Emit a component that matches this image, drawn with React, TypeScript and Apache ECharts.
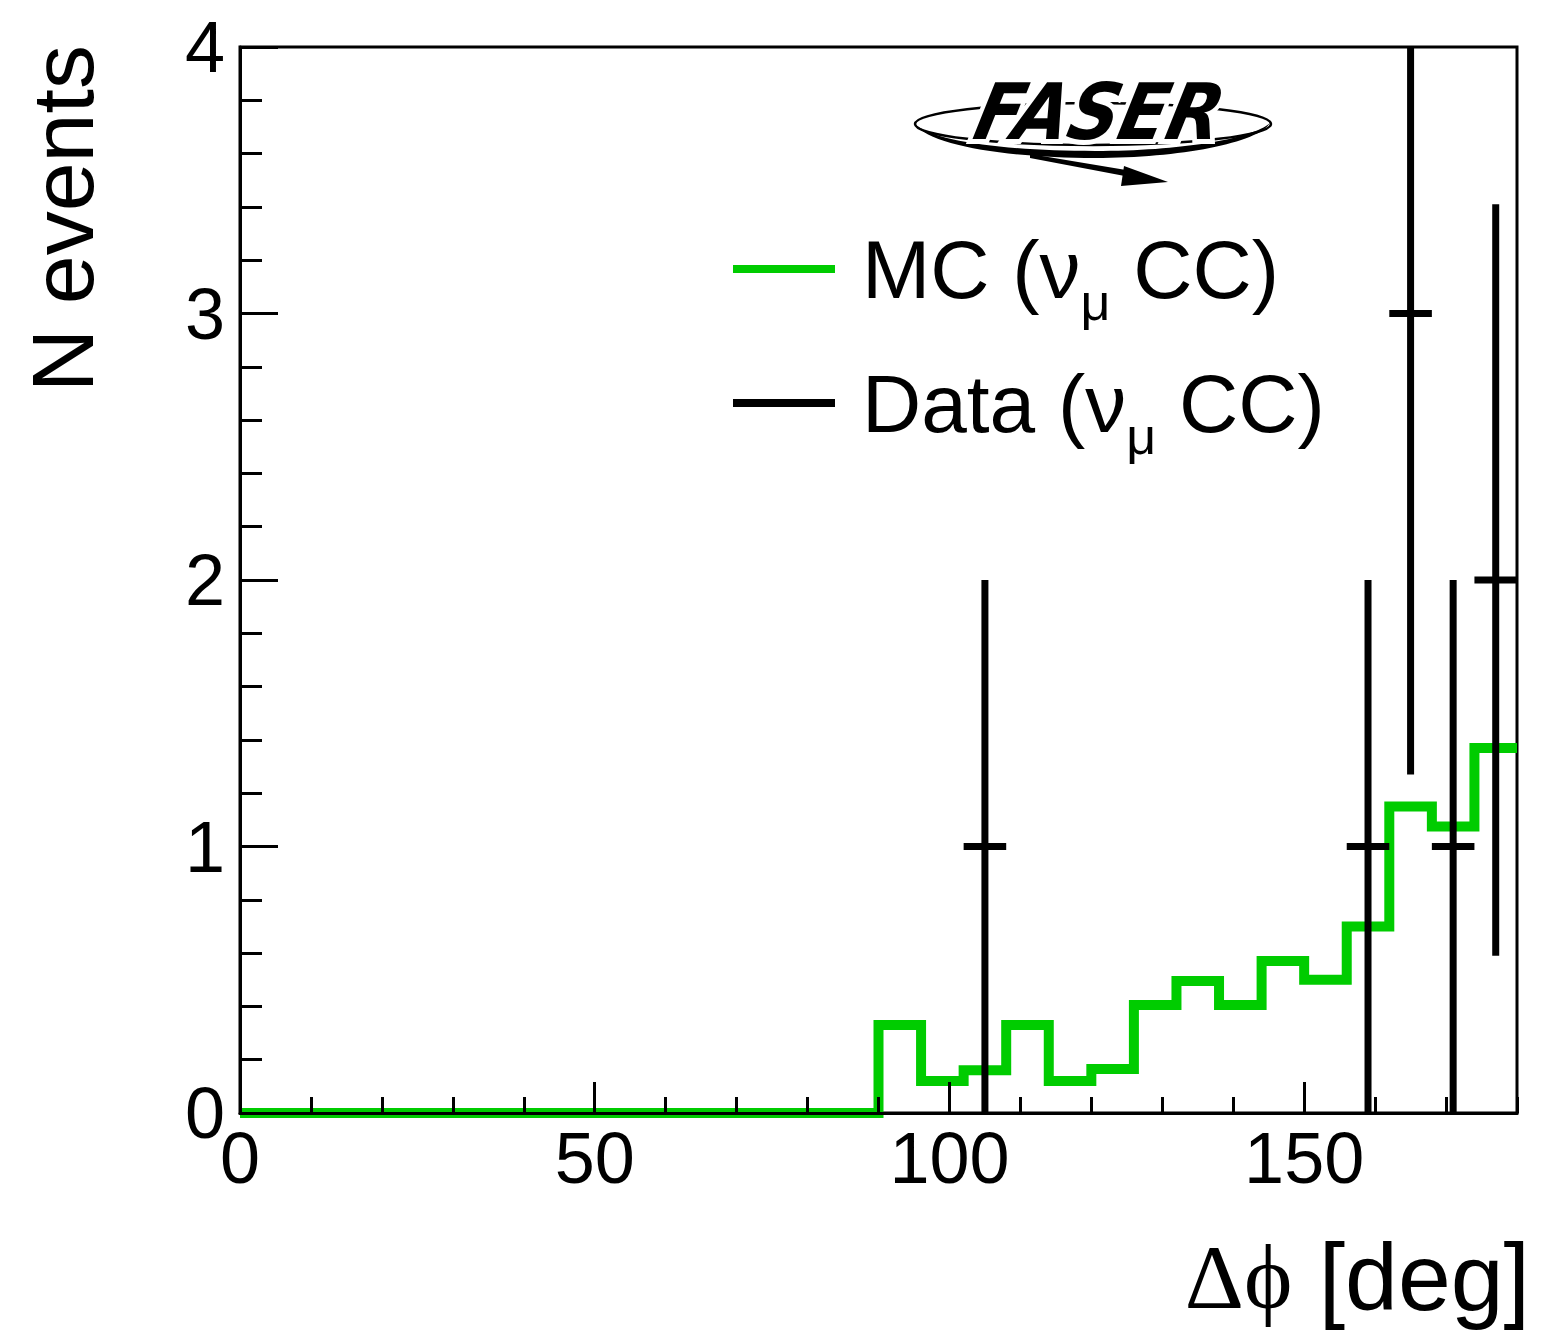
import React, { useEffect, useRef } from "react";
import * as echarts from "echarts";

// ---- data ----
const binEdges = [
  0, 6, 12, 18, 24, 30, 36, 42, 48, 54, 60, 66, 72, 78, 84, 90, 96, 102, 108, 114,
  120, 126, 132, 138, 144, 150, 156, 162, 168, 174, 180,
];
const mcValues = [
  0, 0, 0, 0, 0, 0, 0, 0, 0, 0, 0, 0, 0, 0, 0,
  0.33, 0.12, 0.16, 0.33, 0.12, 0.165, 0.405, 0.495, 0.405, 0.57, 0.5, 0.7, 1.15, 1.075, 1.37,
];
const dataCenters = [105, 159, 165, 171, 177];
const dataBinLow = [102, 156, 162, 168, 174];
const dataBinHigh = [108, 162, 168, 174, 180];
const dataValues = [1, 1, 3, 1, 2];
const dataErrors = [1, 1, 1.73, 1, 1.41];

const X_MIN = 0;
const X_MAX = 180;
const Y_MIN = 0;
const Y_MAX = 4;

const SANS = "Liberation Sans, Arial, Helvetica, sans-serif";
const SERIF = "Liberation Serif, DejaVu Serif, serif";
const GREEN = "#00cc00";

// FASER logo swoosh (decoration)
const SWOOSH =
  "M 915 124 C 930 146 1010 158 1095 158 C 1180 158 1258 143 1270 123 C 1252 139 1180 151 1095 151 C 1010 151 934 142 915 124 Z";
let registered = false;
function registerLogo() {
  if (registered) return;
  registered = true;
  echarts.graphic.registerShape("faserSwoosh", echarts.graphic.extendPath(SWOOSH, {}));
}

export default function App() {
  const ref = useRef<HTMLDivElement>(null);

  useEffect(() => {
    if (!ref.current) return;
    registerLogo();
    const chart = echarts.init(ref.current, null, { renderer: "svg" });

    const mcData = binEdges.map((e, i) => [e, mcValues[Math.min(i, mcValues.length - 1)]]);
    const dataPts = dataCenters.map((c, i) => [c, dataValues[i], dataErrors[i], dataBinLow[i], dataBinHigh[i]]);

    const logoText = (fill: string, stroke?: string) => ({
      type: "text",
      x: 1100,
      y: 112,
      scaleX: 0.9,
      skewX: -0.22,
      style: {
        text: "FASER",
        align: "center",
        verticalAlign: "middle",
        fontSize: 78,
        fontWeight: "bold",
        fontStyle: "italic",
        fontFamily: "DejaVu Sans",
        fill,
        stroke: stroke || "none",
        lineWidth: stroke ? 10 : 0,
      },
    });

    const option: any = {
      animation: false,
      backgroundColor: "#fff",
      grid: {
        left: 240,
        right: 30,
        top: 47,
        bottom: 230,
        show: true,
        borderColor: "#000",
        borderWidth: 3,
        backgroundColor: "transparent",
      },
      legend: {
        orient: "vertical",
        left: 733,
        top: 210,
        padding: 0,
        itemWidth: 102,
        itemHeight: 8,
        itemGap: 16,
        selectedMode: false,
        data: [
          { name: "MC", icon: "rect", itemStyle: { color: GREEN } },
          { name: "Data", icon: "rect", itemStyle: { color: "#000" } },
        ],
        formatter: (n: string) => (n === "MC" ? "MC (ν{s|μ} CC)" : "Data (ν{s|μ} CC)"),
        textStyle: {
          fontSize: 82,
          fontFamily: SANS,
          color: "#000",
          lineHeight: 114,
          padding: [0, 0, 0, 22],
          rich: {
            s: { fontSize: 52, fontFamily: SANS, color: "#000", lineHeight: 48, padding: [66, 0, 0, 0] },
          },
        },
      },
      xAxis: [
        {
          type: "value",
          position: "bottom",
          min: X_MIN,
          max: X_MAX,
          interval: 50,
          z: 10,
          axisLine: { show: true, onZero: false, lineStyle: { color: "#000", width: 3 } },
          axisTick: { show: true, inside: true, length: 31, lineStyle: { color: "#000", width: 3 } },
          axisLabel: {
            show: true,
            margin: 25,
            fontSize: 72,
            lineHeight: 40,
            fontFamily: SANS,
            color: "#000",
            showMaxLabel: false,
          },
          splitLine: { show: false },
        },
        {
          type: "value",
          position: "bottom",
          min: X_MIN,
          max: X_MAX,
          interval: 10,
          z: 10,
          axisLine: { show: false, onZero: false },
          axisTick: { show: true, inside: true, length: 16, lineStyle: { color: "#000", width: 3 } },
          axisLabel: { show: false },
          splitLine: { show: false },
        },
      ],
      yAxis: {
        type: "value",
        min: Y_MIN,
        max: Y_MAX,
        interval: 1,
        z: 10,
        axisLine: { show: true, onZero: false, lineStyle: { color: "#000", width: 3 } },
        axisTick: { show: true, inside: true, length: 38, lineStyle: { color: "#000", width: 3 } },
        minorTick: { show: true, splitNumber: 5, length: 22, lineStyle: { color: "#000", width: 3 } },
        axisLabel: { show: true, margin: 15, fontSize: 72, lineHeight: 40, fontFamily: SANS, color: "#000" },
        splitLine: { show: false },
        minorSplitLine: { show: false },
      },
      series: [
        {
          type: "line",
          name: "MC",
          xAxisIndex: 0,
          yAxisIndex: 0,
          data: mcData,
          step: "end",
          symbol: "none",
          lineStyle: { color: GREEN, width: 10, join: "miter", cap: "butt" },
          itemStyle: { color: GREEN },
          z: 2,
        },
        {
          type: "custom",
          name: "Data",
          coordinateSystem: "cartesian2d",
          xAxisIndex: 0,
          yAxisIndex: 0,
          data: dataPts,
          encode: { x: 0, y: 1 },
          itemStyle: { color: "#000" },
          z: 3,
          renderItem: (params: any, api: any) => {
            const x = api.value(0);
            const y = api.value(1);
            const e = api.value(2);
            const lo = api.value(3);
            const hi = api.value(4);
            const top = api.coord([x, Math.min(y + e, Y_MAX)]);
            const bot = api.coord([x, Math.max(y - e, Y_MIN)]);
            const l = api.coord([lo, y]);
            const r = api.coord([hi, y]);
            return {
              type: "group",
              children: [
                {
                  type: "line",
                  shape: { x1: top[0], y1: top[1], x2: bot[0], y2: bot[1] },
                  style: { stroke: "#000", lineWidth: 7 },
                },
                {
                  type: "line",
                  shape: { x1: l[0], y1: l[1], x2: r[0], y2: r[1] },
                  style: { stroke: "#000", lineWidth: 7 },
                },
              ],
            };
          },
        },
      ],
      graphic: [
        // axis titles
        {
          type: "text",
          x: 1530,
          y: 1277,
          style: {
            text: "{g|Δϕ} [deg]",
            align: "right",
            verticalAlign: "middle",
            fontSize: 95,
            fontFamily: SANS,
            fill: "#000",
            rich: { g: { fontSize: 92, fontFamily: SERIF, fill: "#000" } },
          },
        },
        {
          type: "text",
          x: 62,
          y: 45,
          rotation: Math.PI / 2,
          style: {
            text: "N events",
            align: "right",
            verticalAlign: "middle",
            fontSize: 88,
            fontFamily: SANS,
            fill: "#000",
          },
        },
        // FASER logo
        {
          type: "ellipse",
          shape: { cx: 1093, cy: 124, rx: 178, ry: 21 },
          style: { fill: "none", stroke: "#000", lineWidth: 2.5 },
        },
        { type: "faserSwoosh", x: 0, y: 0, style: { fill: "#000" } },
        {
          type: "polygon",
          shape: { points: [[1030, 154], [1132, 171], [1130, 177], [1030, 158]] },
          style: { fill: "#000" },
        },
        {
          type: "polygon",
          shape: { points: [[1124, 166], [1168, 182], [1121, 186]] },
          style: { fill: "#000" },
        },
        logoText("#fff", "#fff"),
        logoText("#000"),
      ],
    };

    chart.setOption(option);
    return () => {
      chart.dispose();
    };
  }, []);

  return (
    <div
      ref={ref}
      style={{ position: "absolute", left: 0, top: 0, width: 1547, height: 1343, background: "#fff" }}
    />
  );
}
